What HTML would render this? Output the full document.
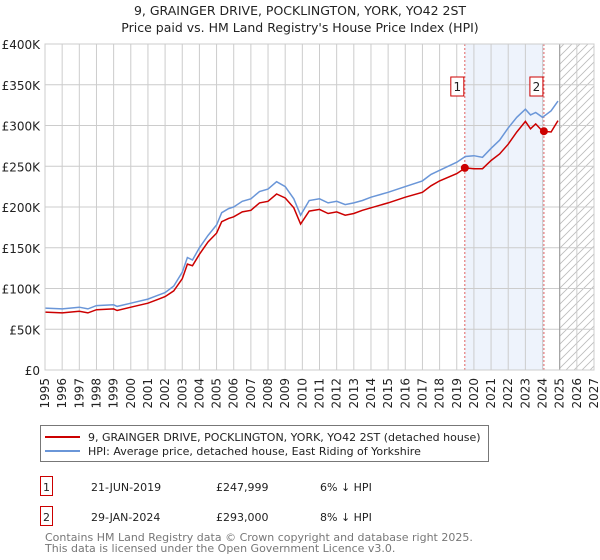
<!DOCTYPE html>
<html><head><meta charset="utf-8"><style>
body{margin:0;background:#fff;font-family:"Liberation Sans","DejaVu Sans",sans-serif;}
#wrap{position:relative;width:600px;height:560px;overflow:hidden;}
svg text{font-family:"DejaVu Sans","Liberation Sans",sans-serif;}
</style></head><body><div id="wrap">
<svg id="c" width="600" height="560"></svg>
</div>
<script>
const hpiYears=[1995,1996,1997,1997.5,1998,1999,1999.2,2000,2001,2001.5,2002,2002.5,2003,2003.3,2003.6,2004,2004.5,2005,2005.3,2005.7,2006,2006.5,2007,2007.5,2008,2008.5,2009,2009.5,2009.9,2010.4,2011,2011.5,2012,2012.5,2013,2013.5,2014,2015,2016,2017,2017.5,2018,2019,2019.5,2020,2020.5,2021,2021.5,2022,2022.5,2023,2023.3,2023.6,2024,2024.5,2024.9];
const hpiValues=[76000,75000,77000,75000,79000,80000,78000,82000,87000,91000,95000,103000,120000,138000,135000,150000,165000,178000,193000,198000,200000,207000,210000,219000,222000,231000,225000,210000,190000,208000,210000,205000,207000,203000,205000,208000,212000,218000,225000,232000,240000,245000,255000,262000,263000,261000,272000,282000,297000,310000,320000,313000,316000,310000,318000,330000];
const priceValues=[71000,70000,72000,70000,74000,75000,73000,77000,82000,86000,90000,97000,112000,130000,128000,142000,157000,168000,182000,186000,188000,194000,196000,205000,207000,216000,211000,199000,179000,195000,197000,192000,194000,190000,192000,196000,199000,205000,212000,218000,226000,232000,241000,248000,247000,247000,257000,265000,277000,292000,305000,296000,302000,293000,292000,306000];
const saleYears=[2019.47,2024.08];
const salePrices=[247999,293000];
const yTicks=[0,50000,100000,150000,200000,250000,300000,350000,400000];
const yTickLabels=["£0","£50K","£100K","£150K","£200K","£250K","£300K","£350K","£400K"];
const xTicks=[1995,1996,1997,1998,1999,2000,2001,2002,2003,2004,2005,2006,2007,2008,2009,2010,2011,2012,2013,2014,2015,2016,2017,2018,2019,2020,2021,2022,2023,2024,2025,2026,2027];
const L=45,R=594,T=44,B=370;
const xs=y=>L+(y-1995)/(2027-1995)*(R-L);
const ys=v=>B-v/400000*(B-T);
const svg=document.getElementById('c');const NS='http://www.w3.org/2000/svg';
function mk(tag,attrs,txt){const e=document.createElementNS(NS,tag);for(const k in attrs)e.setAttribute(k,attrs[k]);if(txt!==undefined)e.textContent=txt;svg.appendChild(e);return e;}
let e;
e=mk('text',{x:300,y:15,'text-anchor':'middle','font-size':12.5,fill:'#222'},'9, GRAINGER DRIVE, POCKLINGTON, YORK, YO42 2ST');


e=mk('text',{x:300,y:32,'text-anchor':'middle','font-size':12.5,fill:'#222'},"Price paid vs. HM Land Registry's House Price Index (HPI)");


// shaded region
e=mk('rect',{x:xs(saleYears[0]),y:T,width:xs(saleYears[1])-xs(saleYears[0]),height:B-T,fill:'#eef3fc'});


// hatch
const defs=mk('defs',{});
const pat=document.createElementNS(NS,'pattern');pat.setAttribute('id','h');pat.setAttribute('width',8);pat.setAttribute('height',8);pat.setAttribute('patternUnits','userSpaceOnUse');
const pl=document.createElementNS(NS,'path');pl.setAttribute('d','M0,8 L8,0 M-2,2 L2,-2 M6,10 L10,6');pl.setAttribute('stroke','#bbb');pl.setAttribute('stroke-width',0.8);pat.appendChild(pl);defs.appendChild(pat);
e=mk('rect',{x:xs(2025),y:T,width:R-xs(2025),height:B-T,fill:'url(#h)'});


// grid
yTicks.forEach((v,i)=>{
 e=mk('line',{x1:L,x2:R,y1:ys(v),y2:ys(v),stroke:'#ccc','stroke-width':1});
 
 
 e=mk('text',{x:L-5,y:ys(v)+5,'text-anchor':'end','font-size':12,fill:'#222'},yTickLabels[i]);
 
 
});
xTicks.forEach(y=>{
 e=mk('line',{x1:xs(y),x2:xs(y),y1:T,y2:B,stroke:'#ccc','stroke-width':1});
 
 
 e=mk('text',{x:0,y:0,'text-anchor':'end','font-size':12,fill:'#222',transform:`translate(${xs(y)+4},${378}) rotate(-90)`},String(y));
 
 
});
e=mk('line',{x1:xs(2025),x2:xs(2025),y1:T,y2:B,stroke:'#999','stroke-width':1});


saleYears.forEach((y,i)=>{
 e=mk('line',{x1:xs(y),x2:xs(y),y1:T,y2:B,stroke:'#e06060','stroke-width':1,'stroke-dasharray':'2,2'});
 
 
});
// lines
const path=(vals)=>hpiYears.map((y,i)=>(i?'L':'M')+xs(y).toFixed(1)+','+ys(vals[i]).toFixed(1)).join('');
e=mk('path',{d:path(hpiValues),fill:'none',stroke:'#6a96d8','stroke-width':1.5});


e=mk('path',{d:path(priceValues),fill:'none',stroke:'#cc0000','stroke-width':1.5});


saleYears.forEach((y,i)=>{
 e=mk('circle',{cx:xs(y),cy:ys(salePrices[i]),r:4,fill:'#cc0000'});
 
 
 e=mk('rect',{x:xs(y)-14,y:77,width:13,height:19,fill:'#fff',stroke:'#cc0000'});
 
 
 e=mk('text',{x:xs(y)-7.5,y:91,'text-anchor':'middle','font-size':12,fill:'#222'},String(i+1));
 
 
});
e=mk('rect',{x:L,y:T,width:R-L,height:B-T,fill:'none',stroke:'#ccc'});


// legend
e=mk('rect',{x:40.5,y:425.5,width:448,height:36,fill:'#fff',stroke:'#777'});


e=mk('line',{x1:45,x2:80,y1:437,y2:437,stroke:'#cc0000','stroke-width':2});


e=mk('text',{x:88,y:441,'font-size':11,fill:'#222'},'9, GRAINGER DRIVE, POCKLINGTON, YORK, YO42 2ST (detached house)');


e=mk('line',{x1:45,x2:80,y1:451,y2:451,stroke:'#6a96d8','stroke-width':2});


e=mk('text',{x:88,y:455,'font-size':11,fill:'#222'},'HPI: Average price, detached house, East Riding of Yorkshire');


// table
const rows=[["1","21-JUN-2019","£247,999","6% ↓ HPI"],["2","29-JAN-2024","£293,000","8% ↓ HPI"]];
rows.forEach((r,i)=>{
 const yy=476+i*30;
 e=mk('rect',{x:40.5,y:yy+0.5,width:12,height:19,fill:'#fff',stroke:'#cc0000'});
 
 
 e=mk('text',{x:46.5,y:yy+15,'text-anchor':'middle','font-size':11,fill:'#222'},r[0]);
 
 
 e=mk('text',{x:91,y:yy+15,'font-size':11,fill:'#222'},r[1]);
 
 
 e=mk('text',{x:216,y:yy+15,'font-size':11,fill:'#222'},r[2]);
 
 
 e=mk('text',{x:320,y:yy+15,'font-size':11,fill:'#222'},r[3]);
 
 
});
e=mk('text',{x:45,y:541,'font-size':11,fill:'#777'},'Contains HM Land Registry data © Crown copyright and database right 2025.');


e=mk('text',{x:45,y:552,'font-size':11,fill:'#777'},'This data is licensed under the Open Government Licence v3.0.');


</script></body></html>
